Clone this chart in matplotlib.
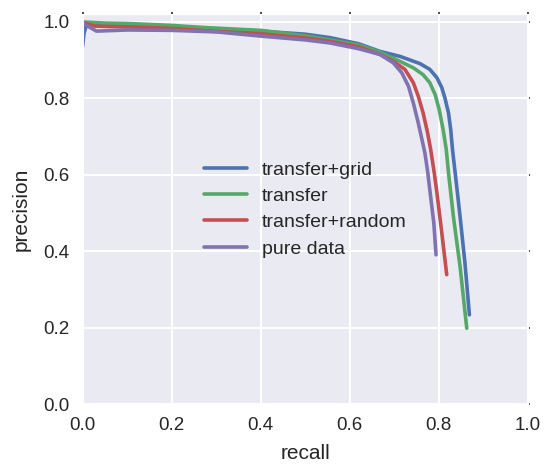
import matplotlib
matplotlib.use("Agg")
import matplotlib.pyplot as plt
import seaborn as sns

# precision/recall curves
grid_recall = [0.0, 0.003, 0.009, 0.05, 0.1, 0.2, 0.3, 0.4, 0.5, 0.556, 0.62, 0.668, 0.713,
               0.758, 0.780, 0.796, 0.807, 0.814, 0.822, 0.827, 0.831, 0.837, 0.848, 0.859, 0.869]
grid_precision = [0.937, 0.97, 0.995, 0.993, 0.992, 0.988, 0.982, 0.976, 0.968, 0.959, 0.943, 0.923, 0.910,
                  0.891, 0.876, 0.854, 0.828, 0.801, 0.762, 0.718, 0.666, 0.605, 0.491, 0.369, 0.234]

transfer_recall = [0.0, 0.05, 0.1, 0.2, 0.28, 0.4, 0.5, 0.556, 0.62, 0.668, 0.713, 0.743,
                   0.765, 0.780, 0.792, 0.801, 0.810, 0.817, 0.822, 0.833, 0.848, 0.863]
transfer_precision = [1.0, 0.997, 0.996, 0.991, 0.985, 0.978, 0.964, 0.953, 0.940, 0.921, 0.897, 0.880,
                      0.862, 0.841, 0.810, 0.771, 0.718, 0.666, 0.605, 0.491, 0.360, 0.199]

random_recall = [0.0, 0.01, 0.028, 0.1, 0.2, 0.3, 0.4, 0.5, 0.556, 0.62, 0.668, 0.698,
                 0.724, 0.743, 0.754, 0.765, 0.775, 0.782, 0.790, 0.796, 0.807, 0.818]
random_precision = [1.0, 0.995, 0.989, 0.987, 0.983, 0.975, 0.969, 0.958, 0.949, 0.935, 0.915, 0.897,
                    0.876, 0.841, 0.806, 0.762, 0.710, 0.666, 0.605, 0.553, 0.448, 0.339]

pure_recall = [0.0, 0.01, 0.031, 0.1, 0.2, 0.3, 0.4, 0.5, 0.556, 0.62, 0.668, 0.698,
               0.717, 0.732, 0.743, 0.754, 0.764, 0.769, 0.775, 0.780, 0.789, 0.794]
pure_precision = [0.998, 0.99, 0.976, 0.979, 0.978, 0.974, 0.963, 0.953, 0.945, 0.930, 0.915, 0.893,
                  0.867, 0.832, 0.788, 0.736, 0.684, 0.657, 0.610, 0.561, 0.474, 0.391]

labels = ["transfer+grid", "transfer", "transfer+random", "pure data"]
colors = ["#4C72B0", "#55A868", "#C44E52", "#8172B2"]

sns.set_style("darkgrid")
plt.rcParams["font.family"] = ["Liberation Sans", "DejaVu Sans"]
plt.rcParams["grid.linewidth"] = 1.4

fig, ax = plt.subplots(figsize=(5.45, 4.66), dpi=100)
fig.subplots_adjust(left=0.1517, right=0.9683, bottom=0.1324, top=0.9693)

curves = [(grid_recall, grid_precision), (transfer_recall, transfer_precision),
          (random_recall, random_precision), (pure_recall, pure_precision)]
for (r, p), lab, c in zip(curves, labels, colors):
    ax.plot(r, p, color=c, lw=2.6, label=lab, solid_capstyle="round", solid_joinstyle="round")

ax.set_xlim(0.0, 1.0)
ax.set_ylim(0.0, 1.02)
ax.set_xticks([0.0, 0.2, 0.4, 0.6, 0.8, 1.0])
ax.set_yticks([0.0, 0.2, 0.4, 0.6, 0.8, 1.0])
ax.tick_params(which="major", direction="out", length=1.5, width=1.2, color=".15",
               top=True, right=True, labelsize=13.5, labelcolor=".15", pad=8)
ax.set_xlabel("recall", fontsize=15, color=".15", labelpad=7)
ax.set_ylabel("precision", fontsize=15, color=".15", labelpad=9)
ax.legend(loc="center", frameon=False, fontsize=14, handlelength=2.2,
          handletextpad=0.75, labelspacing=0.45)

fig.savefig("out.png", dpi=100)
